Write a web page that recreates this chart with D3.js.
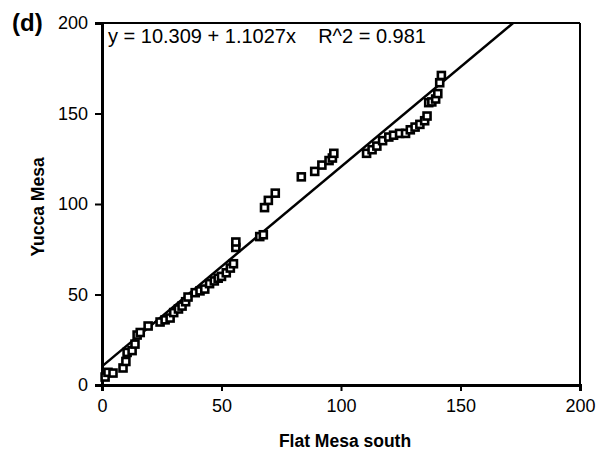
<!DOCTYPE html>
<html>
<head>
<meta charset="utf-8">
<script src="https://cdn.jsdelivr.net/npm/d3@7"></script>
<style>
body { margin: 0; background: #fff; }
svg text { font-family: "Liberation Sans", Arial, sans-serif; }
</style>
</head>
<body>
<div id="chart"></div>
<script>
var flatMesa = [1.3,2.5,4.6,8.8,10,10.5,12.6,13.8,14.7,16,19.3,24.3,26.4,28.5,30,32,33.5,35,36,39,41,43,45,47,48.6,50,52,53.7,55,56,56,66,67.5,68,69.6,72.5,83.4,89,92,95,96.4,97,110.7,113,115,117.4,120,122,124.5,127,129,131,133,135,136,136.7,138,139.6,140.5,141.3,142];
var yuccaMesa = [4.4,7,6.6,9.4,13,18,19,22.6,27.6,29,32.6,34.8,36,37,40,42,43.6,46,48.6,51,52,53,56,57.5,59,60,62,64.6,67,76,79,82,83,98,102,106,115,118,121.5,124,125.4,128,128,130,132,135,137,138,139,139,141,142.5,144,146,148.6,156,156.4,158,161,167,171];
var xTicks = [0,50,100,150,200];
var yTicks = [0,50,100,150,200];
var fit = {a: 10.309, b: 1.1027};

var width = 616, height = 453;
var padding = {left:102, right:36, top:23, bottom:68};

var svg = d3.select("#chart").append("svg")
	.attr("width", width)
	.attr("height", height);

var x = d3.scaleLinear().domain([0,200]).range([padding.left, width-padding.right]);
var y = d3.scaleLinear().domain([0,200]).range([height-padding.bottom, padding.top]);

// frame
svg.append("line")
	.attr("x1", x(0)).attr("x2", x(200)).attr("y1", y(200)).attr("y2", y(200))
	.attr("stroke","#000").attr("stroke-width",2);
svg.append("line")
	.attr("x1", x(200)).attr("x2", x(200)).attr("y1", y(200)).attr("y2", y(0))
	.attr("stroke","#000").attr("stroke-width",2);

var xAxis = svg.append("g")
	.attr("transform","translate(0,"+y(0)+")")
	.call(d3.axisBottom(x).tickValues(xTicks).tickSize(6).tickPadding(8));
var yAxis = svg.append("g")
	.attr("transform","translate("+x(0)+",0)")
	.call(d3.axisLeft(y).tickValues(yTicks).tickSize(7).tickPadding(7));

[xAxis, yAxis].forEach(function(g){
	g.select(".domain").attr("stroke-width",3).attr("stroke","#000");
	g.selectAll(".tick line").attr("stroke-width",2).attr("stroke","#000");
	g.selectAll(".tick text")
		.style("font-size","18px")
		.style("font-family","'Liberation Sans', Arial, sans-serif")
		.attr("fill","#000");
});

// regression line, clipped at the top of the frame
var xEnd = (200 - fit.a) / fit.b;
svg.append("line")
	.attr("x1", x(0)).attr("y1", y(fit.a))
	.attr("x2", x(xEnd)).attr("y2", y(200))
	.attr("stroke","#000")
	.attr("stroke-width",2.5);

// points
svg.append("g").selectAll("rect")
	.data(flatMesa)
	.enter().append("rect")
	.attr("x", function(d){ return x(d)-3.5; })
	.attr("y", function(d,i){ return y(yuccaMesa[i])-3.5; })
	.attr("width",7)
	.attr("height",7)
	.attr("fill","#fff")
	.attr("stroke","#000")
	.attr("stroke-width",2.6);

svg.append("text")
	.text("y = 10.309 + 1.1027x    R^2 = 0.981")
	.attr("x", 108).attr("y", 43)
	.style("font-size","20px")
	.style("white-space","pre")
	.attr("xml:space","preserve");

svg.append("text")
	.text("(d)")
	.attr("x", 12).attr("y", 31)
	.style("font-size","24px")
	.style("font-weight","bold");

svg.append("text")
	.text("Flat Mesa south")
	.attr("x", 345).attr("y", 447)
	.style("text-anchor","middle")
	.style("font-size","17.5px")
	.style("font-weight","bold");

svg.append("text")
	.text("Yucca Mesa")
	.attr("transform","translate(44,207) rotate(-90)")
	.style("text-anchor","middle")
	.style("font-size","17.5px")
	.style("font-weight","bold");
</script>
</body>
</html>
